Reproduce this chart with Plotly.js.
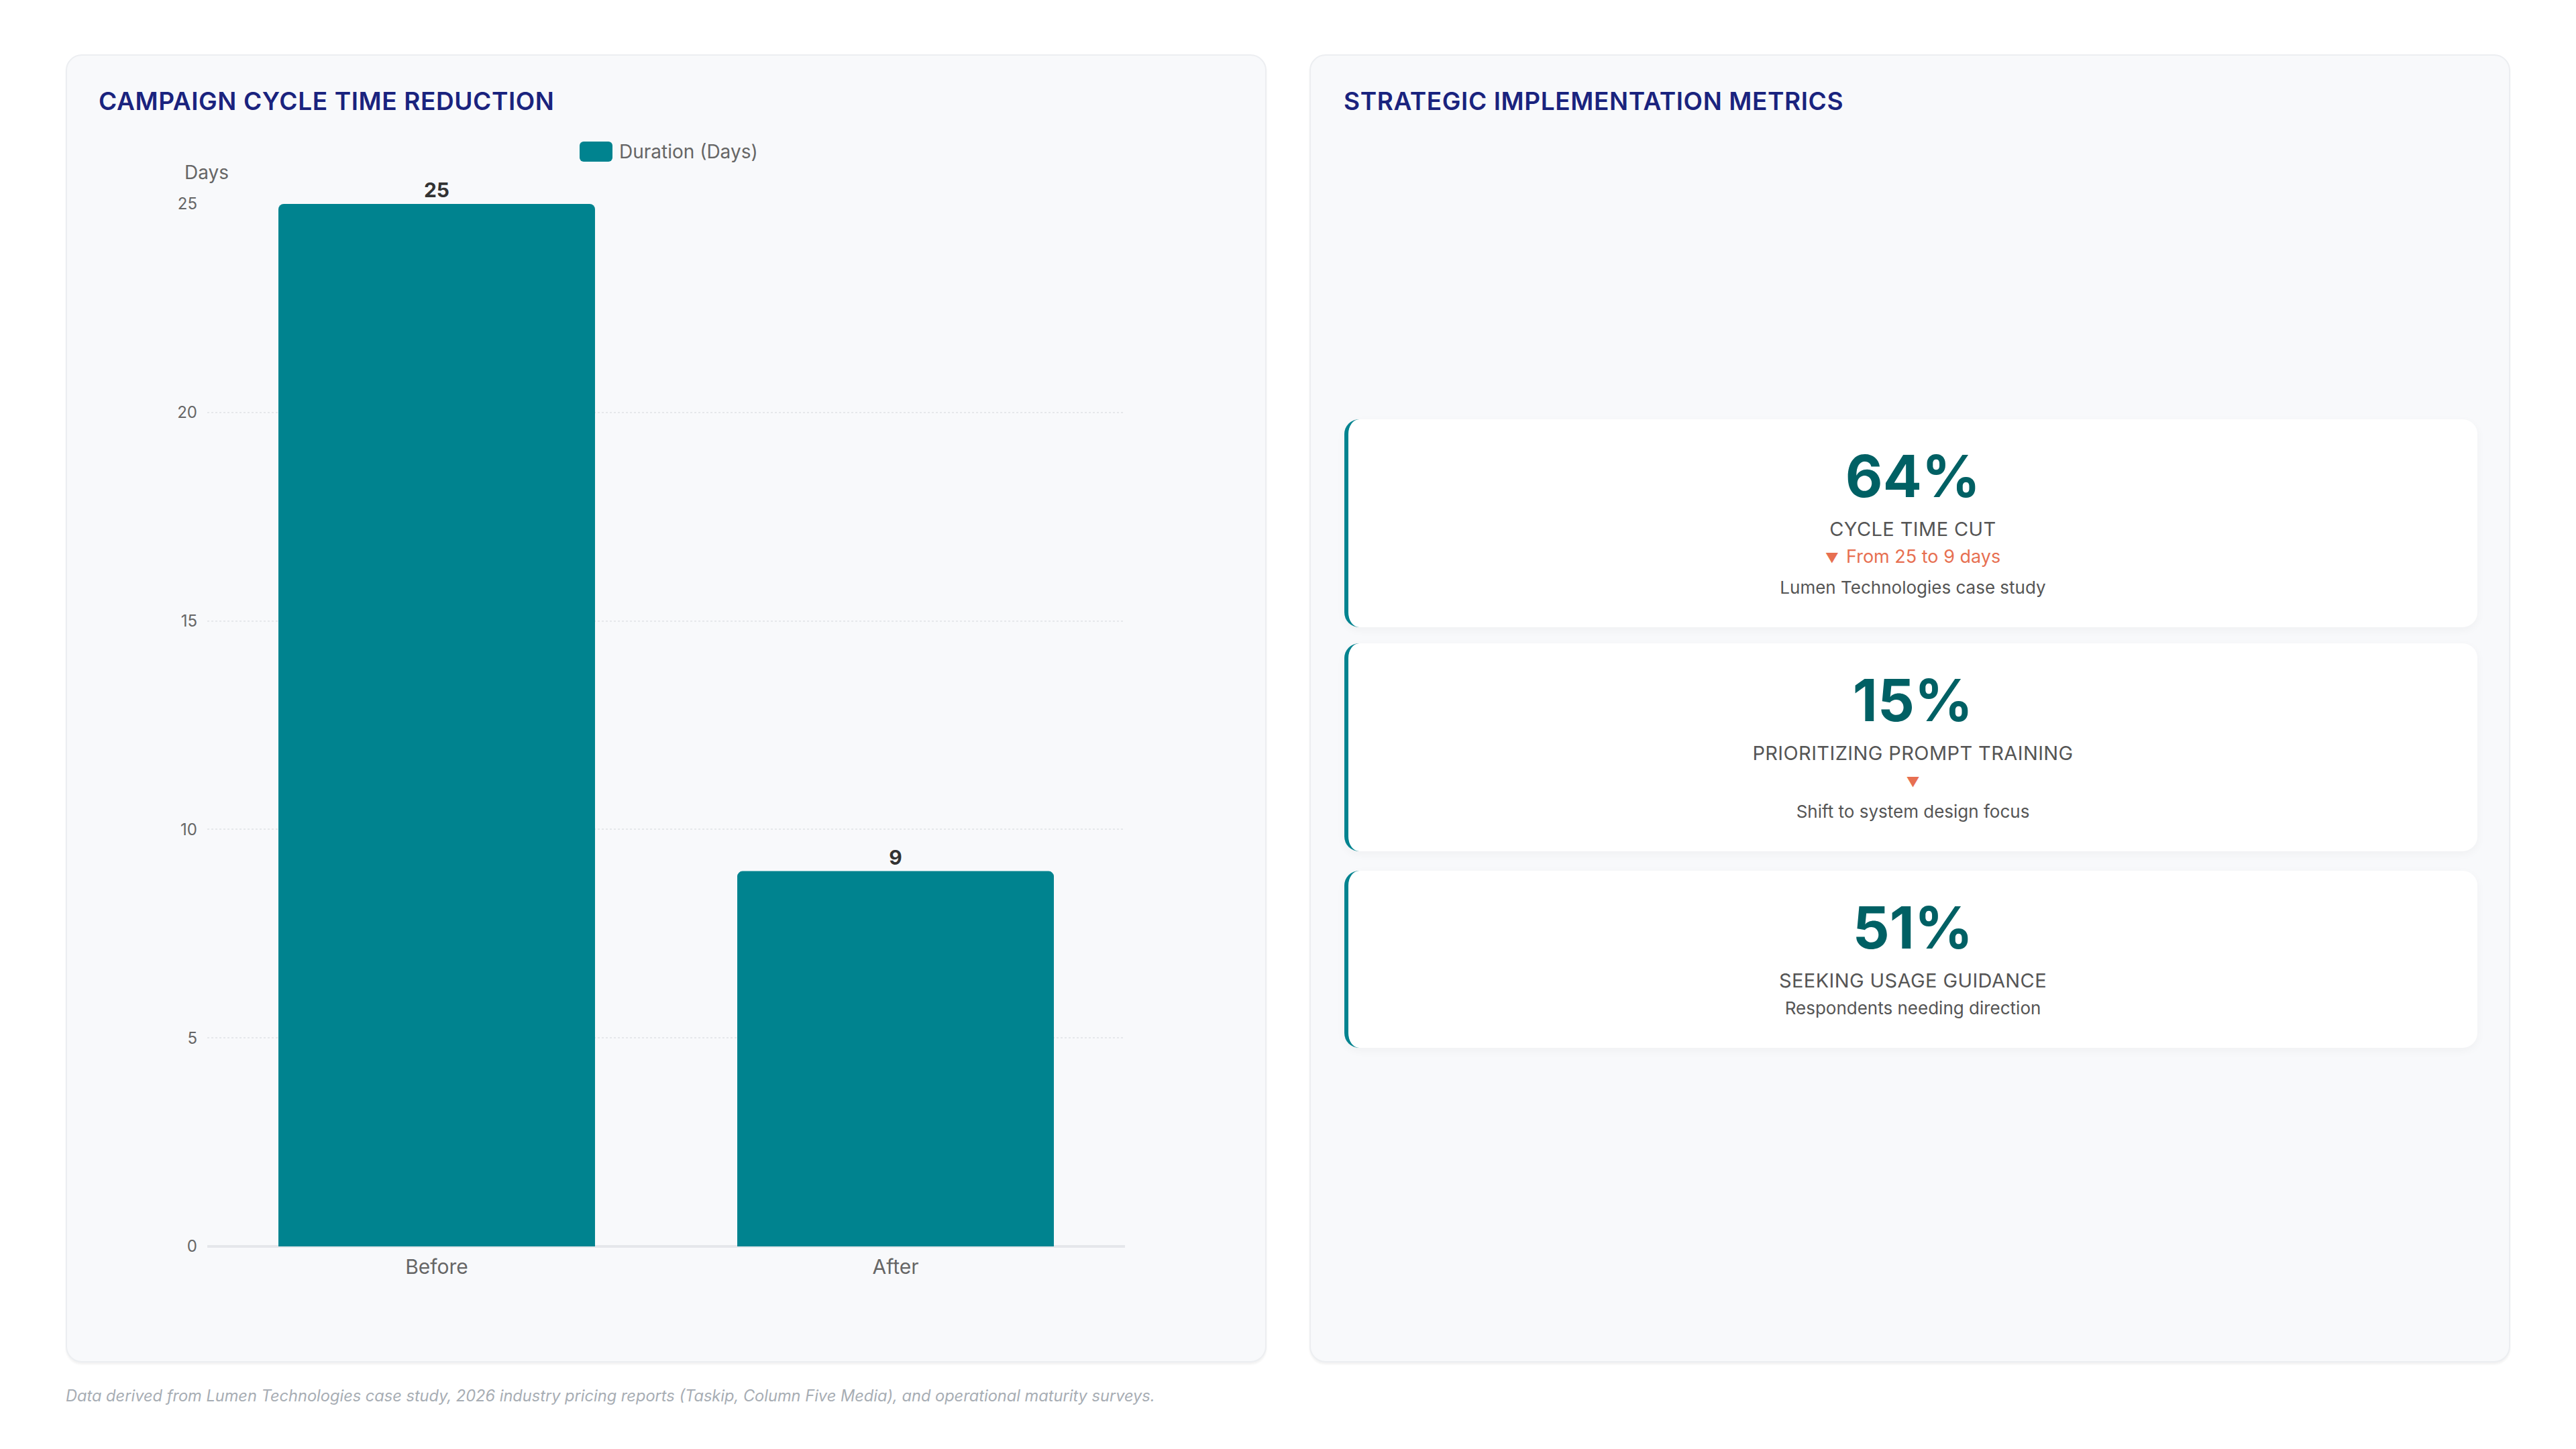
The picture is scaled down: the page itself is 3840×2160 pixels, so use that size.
<!DOCTYPE html>
<html>
<head>
<meta charset="utf-8">
<script src="https://cdn.plot.ly/plotly-3.0.1.min.js"></script>
<style>
  html, body { margin: 0; padding: 0; background: #ffffff; }
  body { width: 3840px; height: 2160px; position: relative; font-family: Inter, "Noto Sans", sans-serif; overflow: hidden; }
  .panel { position: absolute; top: 81px; width: 1786px; height: 1946px; background: #f8f9fb;
           border: 2px solid #eceef1; border-radius: 24px; box-shadow: 0 3px 3px rgba(0,0,0,0.05); }
  .ptitle { position: absolute; top: 128px; font-size: 37px; font-weight: 600; color: #1a237e; letter-spacing: 0.6px; }
  #chart { position: absolute; left: 100px; top: 160px; width: 1780px; height: 1860px; }
  #legend { position: absolute; left: 864px; top: 210px; height: 32px; display: flex; align-items: center; }
  #legend .sw { width: 49px; height: 30px; border-radius: 6px; background: #00838f; margin-right: 10px; }
  #legend .lt { font-size: 28px; color: #666; }
  .card { position: absolute; left: 2004px; width: 1689px; background: #ffffff; border-left: 6px solid #00838f;
          border-radius: 22px; box-shadow: 0 4px 14px rgba(0,0,0,0.04); box-sizing: border-box;
          padding: 35px 0 37px 0; text-align: center; }
  .num { font-size: 86px; font-weight: 700; color: #006064; line-height: 100px; margin-bottom: 10px; }
  .lab { font-size: 29px; color: #555; line-height: 38px; letter-spacing: 0.4px; }
  .sub { font-size: 27px; color: #e76f51; line-height: 44px; }
  .sub .tri { font-size: 20px; }
  .sub .tri.gap { margin-right: 11px; }
  .note { font-size: 26px; color: #555; line-height: 44px; }
  #foot { position: absolute; left: 98px; top: 2066px; font-size: 23.6px; font-style: italic; color: #a7adb4; }
</style>
</head>
<body>
<div class="panel" style="left:98px"></div>
<div class="panel" style="left:1952px"></div>
<div class="ptitle" style="left:147px">CAMPAIGN CYCLE TIME REDUCTION</div>
<div class="ptitle" style="left:2003px">STRATEGIC IMPLEMENTATION METRICS</div>
<div id="chart"></div>
<div id="legend"><div class="sw"></div><div class="lt" id="legtext"></div></div>
<div id="cards"></div>
<div id="foot">Data derived from Lumen Technologies case study, 2026 industry pricing reports (Taskip, Column Five Media), and operational maturity surveys.</div>

<script>
// bar chart data
var phases = ['Before', 'After'];
var days = [25, 9];
var seriesName = 'Duration (Days)';

// metric cards
var kpiValues = ['64%', '15%', '51%'];
var kpiLabels = ['CYCLE TIME CUT', 'PRIORITIZING PROMPT TRAINING', 'SEEKING USAGE GUIDANCE'];
var kpiDeltas = ['From 25 to 9 days', '', null];
var kpiNotes = ['Lumen Technologies case study', 'Shift to system design focus', 'Respondents needing direction'];
var cardTops = [625, 959, 1298];

document.getElementById('legtext').textContent = seriesName;

//build the cards
var holder = document.getElementById('cards');
for (var i = 0; i < kpiValues.length; i++) {
  var c = document.createElement('div');
  c.className = 'card';
  c.style.top = cardTops[i] + 'px';
  var html = '<div class="num">' + kpiValues[i] + '</div><div class="lab">' + kpiLabels[i] + '</div>';
  if (kpiDeltas[i] !== null) {
    html += '<div class="sub"><span class="tri' + (kpiDeltas[i] ? ' gap' : '') + '">\u25BC</span>' + kpiDeltas[i] + '</div>';
  }
  html += '<div class="note">' + kpiNotes[i] + '</div>';
  c.innerHTML = html;
  holder.appendChild(c);
}

var trace = {
  x: phases,
  y: days,
  type: 'bar',
  name: seriesName,
  marker: { color: '#00838f', cornerradius: 8 },
  texttemplate: '%{y}',
  textposition: 'outside',
  textfont: { family: 'Inter', size: 30, color: '#333', weight: 700 },
  cliponaxis: false,
  constraintext: 'none',
  hoverinfo: 'skip'
};

var layout = {
  width: 1780,
  height: 1860,
  margin: { l: 209, r: 203, t: 144, b: 162 },
  paper_bgcolor: 'rgba(0,0,0,0)',
  plot_bgcolor: 'rgba(0,0,0,0)',
  font: { family: 'Inter', color: '#666' },
  showlegend: false,
  bargap: 0.31,
  xaxis: {
    tickfont: { size: 30, color: '#666' },
    showline: false,
    ticks: '',
    showgrid: false,
    ticklabelstandoff: 10
  },
  yaxis: {
    range: [0, 25],
    dtick: 5,
    tickfont: { size: 24, color: '#666' },
    gridcolor: '#e6e8eb',
    griddash: 'dot',
    gridwidth: 2,
    zeroline: true,
    zerolinecolor: '#e5e7eb',
    zerolinewidth: 4,
    showline: false,
    ticklabelstandoff: 14
  },
  annotations: [{
    text: 'Days',
    xref: 'paper', yref: 'paper',
    x: -0.026, y: 1.030,
    xanchor: 'left', yanchor: 'middle',
    showarrow: false,
    font: { size: 28, color: '#666' }
  }]
};

Plotly.newPlot('chart', [trace], layout, { displayModeBar: false, staticPlot: true });
</script>
</body>
</html>
